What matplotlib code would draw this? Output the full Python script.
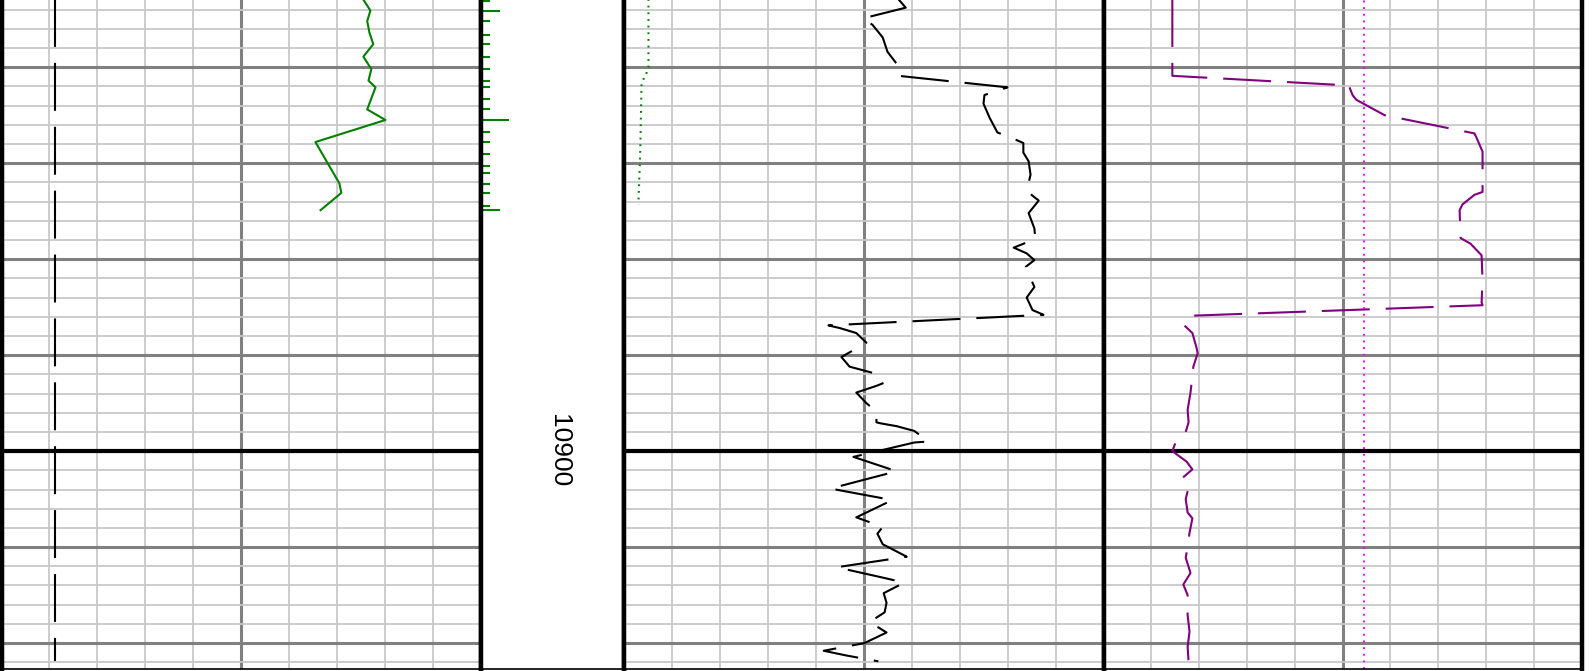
import numpy as np
import matplotlib
matplotlib.use('Agg')
import matplotlib.pyplot as plt
from matplotlib.ticker import MultipleLocator

plt.rcParams['font.family'] = ['Liberation Sans', 'DejaVu Sans']
plt.rcParams['lines.scale_dashes'] = False

# depth window (ft)
top_depth = 10853.0
base_depth = 10922.7

# track 1: gamma ray (0-150) and bit size (5-15 in)
gr_depth = [10852.8, 10854.1, 10855.2, 10856.4, 10857.6, 10858.9, 10860.2, 10861.4,
            10862.1, 10864.4, 10865.5, 10867.8, 10872.1, 10873.1, 10874.9]
gr = [112.9, 115.4, 114.4, 115.1, 116.3, 113.2, 115.7, 114.8,
      117.0, 114.4, 120.1, 98.2, 105.7, 106.3, 99.8]
bs_depth = [10852.7, 10921.9]
bs = [6.125, 6.125]

# depth track: sample marks (1 = short, 2 = long, 3 = longest)
mark_depth = [10853.1, 10854.1, 10855.2, 10856.6, 10857.6, 10858.9, 10860.2, 10861.4,
              10862.1, 10863.3, 10864.4, 10865.5, 10866.8, 10867.8, 10869.0, 10870.3,
              10871.0, 10872.2, 10873.1, 10874.5, 10874.9]
mark_size = [1, 2, 1, 1, 1, 1, 1, 1, 1, 1, 1, 3, 1, 1, 1, 1, 1, 1, 1, 1, 2]

# track 2: black dashed curve and green dotted curve (0-100)
c2_depth = [10852.7, 10853.8, 10854.9, 10855.6, 10856.9, 10858.4, 10859.9, 10860.9, 10862.1, 10862.9,
            10863.8, 10865.3, 10866.8, 10867.4, 10867.9, 10868.9, 10869.8, 10871.2, 10872.9, 10873.9,
            10875.2, 10876.8, 10877.9, 10878.8, 10879.4, 10880.1, 10880.8, 10882.9, 10884.0, 10885.3,
            10885.8, 10886.9, 10887.2, 10887.7, 10888.7, 10890.2, 10891.2, 10891.9, 10892.9, 10893.2,
            10893.9, 10895.0, 10895.9, 10897.0, 10897.1, 10897.4, 10897.9, 10899.0, 10899.1, 10900.6,
            10902.1, 10903.9, 10905.1, 10906.9, 10907.9, 10908.6, 10909.7, 10911.0, 10912.1, 10913.2,
            10913.7, 10914.8, 10915.8, 10916.8, 10917.8, 10918.9, 10920.0, 10920.8, 10921.3, 10921.9]
c2 = [56.9, 58.8, 50.0, 51.9, 54.0, 55.0, 57.3, 57.3, 80.0, 75.2,
      75.0, 76.3, 77.9, 81.0, 83.3, 83.3, 84.4, 84.8, 84.0, 86.5,
      84.4, 85.6, 85.8, 81.3, 84.0, 85.6, 83.8, 85.6, 84.0, 85.2,
      87.5, 42.7, 45.2, 48.5, 50.6, 45.4, 47.1, 52.3, 54.2, 52.7,
      48.5, 50.6, 52.7, 52.7, 53.5, 56.9, 60.6, 63.5, 60.6, 47.9,
      56.9, 43.1, 56.0, 48.5, 54.0, 52.9, 54.0, 59.0, 44.4, 54.2,
      58.5, 54.2, 54.8, 54.4, 51.3, 54.8, 50.2, 41.7, 46.5, 53.1]
g2_depth = [10852.7, 10860.0, 10860.6, 10861.2, 10861.9, 10868.6, 10874.3]
g2 = [5.2, 5.2, 4.8, 4.2, 3.75, 3.5, 3.1]

# track 3: purple dashed curve (0-100) and cutoff
c3_depth = [10852.7, 10860.9, 10861.9, 10862.9, 10863.4, 10865.0, 10866.9, 10867.3, 10868.8, 10873.0,
            10873.3, 10874.3, 10874.9, 10877.8, 10878.4, 10879.6, 10882.2, 10884.5, 10884.8, 10885.9,
            10886.9, 10887.7, 10889.3, 10889.8, 10891.2, 10893.9, 10895.7, 10897.0, 10898.0, 10898.8,
            10900.0, 10901.1, 10901.9, 10902.8, 10903.8, 10905.0, 10906.4, 10907.0, 10908.5, 10910.0,
            10911.1, 10912.7, 10913.9, 10915.0, 10917.1, 10918.8, 10920.4, 10921.9]
c3 = [14.4, 14.4, 51.3, 52.1, 52.9, 58.8, 77.6, 78.0, 79.3, 79.3,
      77.6, 75.1, 74.5, 74.7, 76.8, 79.1, 79.3, 79.1, 79.3, 18.0,
      16.9, 18.6, 19.5, 19.7, 18.8, 18.2, 17.6, 17.8, 17.2, 15.3,
      14.4, 17.4, 18.6, 16.5, 17.8, 17.2, 17.6, 18.6, 18.0, 17.6,
      17.2, 18.2, 16.7, 17.6, 17.6, 18.0, 17.6, 17.8]
cutoff = 54.4

label_depth = 10900

W, H = 1596, 671
fig = plt.figure(figsize=(W / 100, H / 100), dpi=100)

long_dash = (0, (34.5, 11.5))
dots = (0, (1.3, 3.5))


def px_axes(x0, x1):
    return fig.add_axes([x0 / W, 2 / H, (x1 - x0) / W, 669 / H])


def style_track(ax, xlim, grid=True):
    ax.set_xlim(*xlim)
    ax.set_ylim(base_depth, top_depth)
    span = xlim[1] - xlim[0]
    ax.xaxis.set_major_locator(MultipleLocator(span / 2))
    ax.xaxis.set_minor_locator(MultipleLocator(span / 10))
    ax.yaxis.set_major_locator(MultipleLocator(10))
    ax.yaxis.set_minor_locator(MultipleLocator(2))
    if grid:
        ax.grid(which='minor', color='#c8c8c8', lw=1.3)
        ax.grid(which='major', color='#808080', lw=2.2)
        ax.axhline(label_depth, color='black', lw=3, zorder=1.5)
    ax.set_axisbelow(True)
    ax.tick_params(which='both', length=0, labelbottom=False, labelleft=False)
    ax.spines['top'].set_visible(False)
    for s in ('left', 'right'):
        ax.spines[s].set_linewidth(3.2)
    ax.spines['bottom'].set_linewidth(1.2)


# track 1
ax1 = px_axes(1.5, 481)
style_track(ax1, (0, 150))
ax1.plot(gr, gr_depth, color='green', lw=1.5)
ax1b = ax1.twiny()
ax1b.set_xlim(5, 15)
ax1b.set_ylim(base_depth, top_depth)
ax1b.axis('off')
ax1b.plot(bs, bs_depth, color='black', lw=1.5, ls=long_dash)

# depth track
axd = px_axes(481, 623.5)
style_track(axd, (0, 1), grid=False)
axd.hlines(mark_depth, 0, np.array(mark_size) * 0.066, color='green', lw=1.5)
axd.text(0.545, label_depth, str(label_depth), transform=axd.get_yaxis_transform(),
         rotation=-90, ha='center', va='center', fontsize=19)

# track 2
ax2 = px_axes(623.5, 1103.5)
style_track(ax2, (0, 100))
ax2.plot(c2, c2_depth, color='black', lw=1.5, ls=long_dash)
ax2.plot(g2, g2_depth, color='green', lw=1.5, ls=dots)

# track 3
ax3 = px_axes(1103.5, 1581.5)
style_track(ax3, (0, 100))
ax3.plot(c3, c3_depth, color='purple', lw=1.5, ls=long_dash)
ax3.axvline(cutoff, color='magenta', lw=1.5, ls=dots)

fig.savefig('out.png', dpi=100)
